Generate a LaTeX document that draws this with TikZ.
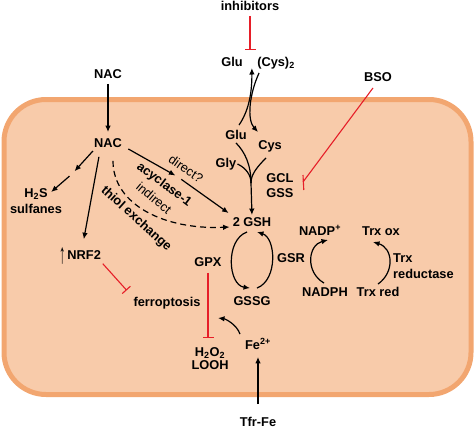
\documentclass[tikz,border=0pt]{standalone}
\usepackage{fontspec}
\usepackage{graphicx}
\setmainfont{Liberation Sans}
\usetikzlibrary{arrows.meta}
\definecolor{cellfill}{RGB}{248,203,170}
\definecolor{celledge}{RGB}{242,166,112}
\definecolor{inhred}{RGB}{230,30,40}
\newcommand{\uparr}{\raisebox{-4pt}{\scalebox{1}[2.2]{\mdseries ↑}}}
\begin{document}
\begin{tikzpicture}[x=1pt,y=-1pt,
  lab/.style={font=\bfseries\fontsize{12.8}{15}\selectfont, inner sep=1pt, text height=9pt, text depth=2.5pt},
  labtwo/.style={font=\bfseries\fontsize{12.8}{16}\selectfont, inner sep=1pt, align=left},
  thinlab/.style={font=\fontsize{12.8}{15}\selectfont, inner sep=1pt},
  arr/.style={draw=black, line width=1.2pt, -{Latex[length=6.5pt,width=5.5pt]}},
  inhib/.style={draw=inhred, line width=1.1pt, -{Bar[width=11pt]}},
  redline/.style={draw=inhred, line width=1.1pt},
  plain/.style={draw=black, line width=1.2pt}
]
\useasboundingbox (0,0) rectangle (474,429);
\draw[draw=celledge, fill=cellfill, line width=5pt, rounded corners=42pt] (4,99.5) rectangle (471,394.5);

% nodes
\node[lab] (inh) at (250,7) {inhibitors};
\node[lab] (gluout) at (232,63) {Glu};
\node[lab] (cysout) at (276,63) {(Cys)\textsubscript{2}};
\node[lab] (bso) at (378,78) {BSO};
\node[lab] (nacout) at (108,75) {NAC};
\node[lab] (nac) at (108,144) {NAC};
\node[lab] (gluin) at (236,136) {Glu};
\node[lab] (cysin) at (270,146) {Cys};
\node[lab] (gly) at (226,164) {Gly};
\node[lab] (gcl) at (280,179) {GCL};
\node[lab] (gss) at (280,194) {GSS};
\node[lab] (h2s) at (36,194) {H\textsubscript{2}S};
\node[lab] (sulf) at (36,210) {sulfanes};
\node[lab] (nrf) at (80,256) {\uparr\hspace{2pt}NRF2};
\node[lab] (ferro) at (167,303) {ferroptosis};
\node[lab] (gsh) at (252,223) {2 GSH};
\node[lab] (gpx) at (208,263) {GPX};
\node[lab] (gssg) at (252,302) {GSSG};
\node[lab] (gsr) at (291,259) {GSR};
\node[lab] (nadp) at (320,232) {NADP\textsuperscript{+}};
\node[lab] (nadph) at (325,293) {NADPH};
\node[lab] (trxox) at (381,232) {Trx ox};
\node[lab] (trxred) at (378,293) {Trx red};
\node[labtwo, anchor=west] (trxr) at (392,266) {Trx\\reductase};
\node[lab] (h2o2) at (210,353) {H\textsubscript{2}O\textsubscript{2}};
\node[lab] (looh) at (210,366) {LOOH};
\node[lab] (fe) at (258,346) {Fe\textsuperscript{2+}};
\node[lab] (tfr) at (258,423) {Tfr-Fe};

% rotated labels
\node[thinlab, rotate=-35] (directlab) at (186,169) {direct?};
\node[lab, rotate=-37] (acy) at (164,185) {acyclase-1};
\node[thinlab, rotate=-40] (indlab) at (154,198) {indirect};
\node[lab, rotate=-42] (thiol) at (136,219) {thiol exchange};

% coordinates
\coordinate (hx) at (72.5,173.5);
\coordinate (dx) at (178,177);
\coordinate (m) at (251,183);
\coordinate (bsot) at (303,182);
\coordinate (inht) at (250,50);
\coordinate (fex) at (218,318);

% connectors
\draw[inhib, shorten <=2pt] (inh.south) -- (inht);
\draw[arr] ([shift={(3,-4)}]gluin.north) .. controls (248,112) and (252,95) .. ([shift={(8,5)}]gluout.east);
\draw[arr] ([shift={(3,3)}]cysout.south west) .. controls (249,95) and (247,120) .. ([shift={(1,-7)}]cysin.north west);

\draw[plain] (gluin.south) .. controls (245,152) and (251,165) .. (m);
\draw[plain] (gly.east) .. controls (246,168) and (251,175) .. (m);
\draw[plain] ([shift={(-4,5)}]cysin.south) .. controls (256,168) and (251,175) .. (m);
\draw[arr, shorten >=1pt] (m) -- (gsh.north);

\draw[redline] ([shift={(-5,3)}]bso.south) -- (bsot);
\draw[redline] (bsot) ++(0,-7) -- ++(0.8,15);

\draw[arr, shorten <=2pt, shorten >=5pt] (nacout.south) -- (nac.north);
\draw[arr, shorten >=3pt] (nac.south west) -- (hx);
\draw[arr, shorten <=4pt, shorten >=3pt] (hx) -- (h2s.east);
\draw[arr, shorten <=6pt, shorten >=10pt] ([shift={(-8,0)}]nac.south) -- ([shift={(2,0)}]nrf.north);
\draw[arr, shorten <=6pt, shorten >=3pt] ([shift={(0,2)}]nac.east) -- (dx);
\draw[arr, shorten <=4pt] (dx) -- ([shift={(-3,-3)}]gsh.north west);
\draw[arr, dash pattern=on 6pt off 4pt] ([shift={(5,10)}]nac.south) .. controls (113,205) and (165,230) .. ([shift={(-2,4)}]gsh.west);

\draw[inhib, shorten <=1pt, shorten >=1pt] (nrf.south east) -- ([shift={(-5,-5)}]ferro.north west);
\draw[inhib, shorten <=3pt, shorten >=8pt] (gpx.south) -- (gpx.south |- h2o2.north);

\draw[arr] ([shift={(-5,2)}]gsh.south) .. controls (225,240) and (228,285) .. ([shift={(-2,-7)}]gssg.north);
\draw[arr] ([shift={(5,-7)}]gssg.north) .. controls (278,280) and (276,238) .. ([shift={(5,2)}]gsh.south);

\draw[arr] ([shift={(-1,-3)}]nadph.north) .. controls (305,272) and (308,245) .. ([shift={(8,1)}]nadp.south);
\draw[arr] ([shift={(0,-2)}]trxred.north) .. controls (395,272) and (393,248) .. ([shift={(-8,3)}]trxox.south);

\draw[arr] ([shift={(-4,-5)}]fe.north west) .. controls (237,325) and (226,319) .. (fex);
\draw[arr, shorten <=12pt, shorten >=4pt] (tfr.north) -- (fe.south);
\end{tikzpicture}
\end{document}
